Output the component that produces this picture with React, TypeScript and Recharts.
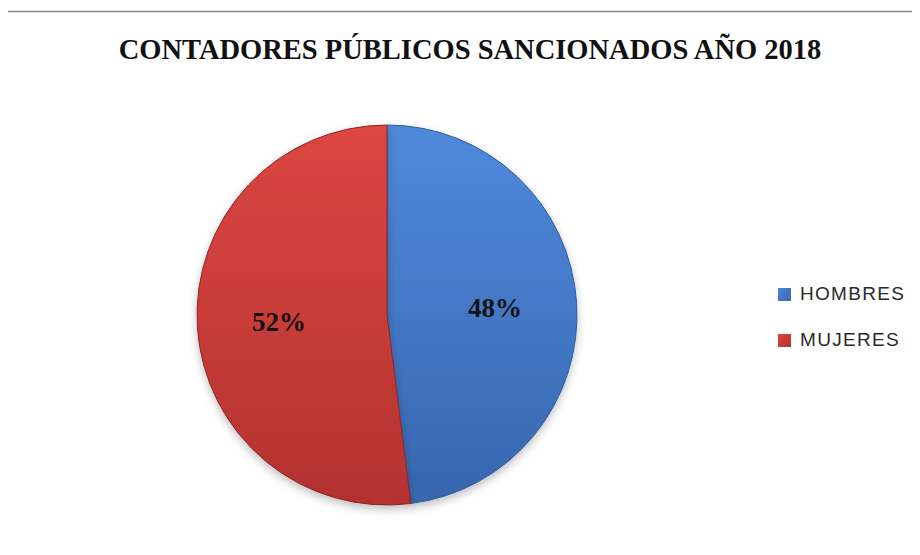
import { PieChart, Pie, Cell } from 'recharts';

// datos
const categories = ['HOMBRES', 'MUJERES'];
const percentages = [48, 52];

const gradients = [
  { id: 'gradHombres', top: '#5089dc', bottom: '#3766ae', stroke: '#2f5d9e' },
  { id: 'gradMujeres', top: '#dc4642', bottom: '#b3322f', stroke: '#8f2725' },
];

const data = categories.map((name, i) => ({ name, value: percentages[i] }));

const RAD = Math.PI / 180;

const renderLabel = (props: any) => {
  const { cx, cy, midAngle, outerRadius, value } = props;
  const r = outerRadius * 0.57;
  const x = cx + r * Math.cos(-midAngle * RAD);
  const y = cy + r * Math.sin(-midAngle * RAD);
  return (
    <text
      x={x}
      y={y}
      textAnchor="middle"
      dominantBaseline="central"
      fontFamily="'Liberation Serif', 'Times New Roman', serif"
      fontWeight="bold"
      fontSize={27}
      fill="#141414"
    >
      {value}%
    </text>
  );
};

const Leyenda = () => (
  <div
    style={{
      position: 'absolute',
      left: 778,
      top: 271,
      fontFamily: "'Liberation Sans', Arial, sans-serif",
    }}
  >
    {categories.map((c, i) => (
      <div key={c} style={{ display: 'flex', alignItems: 'center', height: 46 }}>
        <div
          style={{
            width: 13,
            height: 13,
            marginRight: 9,
            background: `linear-gradient(135deg, ${gradients[i].top}, ${gradients[i].bottom})`,
          }}
        />
        <span style={{ fontSize: 19, letterSpacing: 1.3, color: '#2a2a2a' }}>{c}</span>
      </div>
    ))}
  </div>
);

export default function App() {
  return (
    <div
      style={{
        position: 'relative',
        width: 920,
        height: 555,
        marginLeft: -8,
        marginTop: -8,
        background: '#fff',
      }}
    >
      {/* marco */}
      <svg width={920} height={555} style={{ position: 'absolute', left: 0, top: 0 }}>
        <path d="M6.5,560 L6.5,11.5 L917.5,11.5 L917.5,560" fill="none" stroke="#8a8a8a" strokeWidth={1.5} />
      </svg>
      <div
        style={{
          position: 'absolute',
          top: 34,
          left: 0,
          width: 940,
          textAlign: 'center',
          fontFamily: "'Liberation Serif', 'Times New Roman', serif",
          fontWeight: 'bold',
          fontSize: 28.5,
          color: '#111',
          whiteSpace: 'nowrap',
        }}
      >
        CONTADORES PÚBLICOS SANCIONADOS AÑO 2018
      </div>
      <div style={{ position: 'absolute', left: 0, top: 0 }}>
        <PieChart width={920} height={555} margin={{ top: 0, right: 0, bottom: 0, left: 0 }}>
          <defs>
            {gradients.map((g) => (
              <linearGradient key={g.id} id={g.id} x1="0" y1="0" x2="0" y2="1">
                <stop offset="0%" stopColor={g.top} />
                <stop offset="100%" stopColor={g.bottom} />
              </linearGradient>
            ))}
            <filter id="pieShadow" x="-20%" y="-20%" width="140%" height="140%">
              <feDropShadow dx="0" dy="4" stdDeviation="4" floodColor="#000" floodOpacity="0.25" />
            </filter>
          </defs>
          <Pie
            data={data}
            dataKey="value"
            nameKey="name"
            cx={387}
            cy={315}
            outerRadius={190}
            startAngle={90}
            endAngle={-270}
            label={renderLabel}
            labelLine={false}
            isAnimationActive={false}
            style={{ filter: 'url(#pieShadow)' }}
          >
            {data.map((d, i) => (
              <Cell key={d.name} fill={`url(#${gradients[i].id})`} stroke={gradients[i].stroke} strokeWidth={1} />
            ))}
          </Pie>
        </PieChart>
      </div>
      <Leyenda />
    </div>
  );
}
